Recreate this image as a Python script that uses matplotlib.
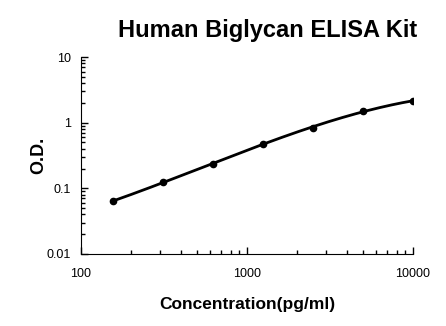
import numpy as np
import matplotlib.pyplot as plt
from matplotlib.ticker import LogLocator, NullFormatter, FixedLocator, FixedFormatter

plt.rcParams['font.family'] = ['Liberation Sans', 'DejaVu Sans']

# 标准曲线数据
conc = [156.25, 312.5, 625, 1250, 2500, 5000, 10000]
od = [0.064, 0.124, 0.238, 0.479, 0.84, 1.51, 2.14]
y_ticks = [0.01, 0.1, 1, 10]
y_labels = ['0.01', '0.1', '1', '10']
x_ticks = [100, 1000, 10000]
x_labels = ['100', '1000', '10000']

fig = plt.figure(figsize=(4.46, 3.26), dpi=100)
ax = fig.add_axes([0.1816, 0.221, 0.7444, 0.604])

# 在对数空间拟合三次多项式画平滑曲线
lx = np.log10(conc)
ly = np.log10(od)
coef = np.polyfit(lx, ly, 3)
xs = np.linspace(lx.min(), lx.max(), 200)
ax.plot(10 ** xs, 10 ** np.polyval(coef, xs), color='black', linewidth=2)
ax.plot(conc, od, 'o', color='black', markersize=4.5)

ax.set_xscale('log')
ax.set_yscale('log')
ax.set_xlim(100, 10000)
ax.set_ylim(0.01, 10)

ax.spines['top'].set_visible(False)
ax.spines['right'].set_visible(False)

ax.xaxis.set_major_locator(FixedLocator(x_ticks))
ax.xaxis.set_major_formatter(FixedFormatter(x_labels))
ax.yaxis.set_major_locator(FixedLocator(y_ticks))
ax.yaxis.set_major_formatter(FixedFormatter(y_labels))
ax.xaxis.set_minor_locator(LogLocator(base=10, subs=np.arange(2, 10)))
ax.yaxis.set_minor_locator(LogLocator(base=10, subs=np.arange(2, 10)))
ax.xaxis.set_minor_formatter(NullFormatter())
ax.yaxis.set_minor_formatter(NullFormatter())

ax.tick_params(axis='both', which='major', direction='in', length=5, width=1, labelsize=9)
ax.tick_params(axis='both', which='minor', direction='in', length=3, width=1)
ax.tick_params(axis='x', which='major', pad=10)
ax.tick_params(axis='y', which='major', pad=7)

ax.set_xlabel('Concentration(pg/ml)', fontsize=12.5, fontweight='bold', labelpad=12)
ax.set_ylabel('O.D.', fontsize=13, fontweight='bold', labelpad=0)
fig.text(0.6, 0.907, 'Human Biglycan ELISA Kit', fontsize=17, fontweight='bold',
         ha='center', va='center')

plt.savefig('out.png', dpi=100)
